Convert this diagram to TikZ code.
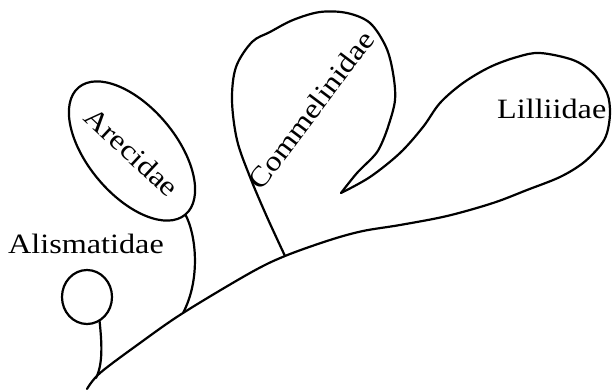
\documentclass[tikz,border=0pt]{standalone}
\usepackage{fontspec}
\setmainfont[FakeStretch=1.15]{Liberation Serif}
\usetikzlibrary{calc}
\begin{document}
\begin{tikzpicture}[x=1pt,y=1pt,
  outline/.style={line width=2.2pt, line join=round, line cap=round},
  lbl/.style={font=\fontsize{28}{34}\selectfont, inner sep=0pt}]
\useasboundingbox (0,0) rectangle (612,389);
% junction coordinates
\coordinate (root) at (87,0);
\coordinate (jA) at (96,11);
\coordinate (jR) at (183,76);
\coordinate (jC) at (285,133);
\coordinate (tip) at (341,196);
\coordinate (cA) at (87,92);
\coordinate (cR) at (132,238);
\coordinate (sA) at ($(cA)+(-60:25 and 27)$);
\coordinate (sR) at ($(cR)+(-50:83)$);
% trunk and Lilliidae
\draw[outline] plot[smooth, tension=0.55] coordinates {
  (root) (100,16) (140,46) (jR) (250,116) (jC) (330,149) (363,158) (400,164)
  (447,173) (493,186) (527,199) (560,212) (583,226) (600,243) (607,256)
  (610,276) (607,296) (593,316) (573,329) (540,336) (517,332) (490,322)
  (463,306) (440,286) (423,262) (400,236) (370,212) (tip)};
% Commelinidae
\draw[outline] plot[smooth, tension=0.55] coordinates {
  (jC) (267,172) (250,212) (237,249) (232,289) (236,322) (252,347) (270,357)
  (293,369) (320,377) (347,376) (370,366) (386,342) (393,316) (395,289)
  (388,262) (380,242) (373,232) (357,216) (tip)};
% Arecidae
\draw[outline, rotate around={-50:(cR)}] (cR) ellipse [x radius=83, y radius=44];
\draw[outline] (sR) .. controls (196,155) and (201,110) .. (jR);
% Alismatidae
\draw[outline] (cA) ellipse [x radius=25, y radius=27];
\draw[outline] (sA) .. controls (102,45) and (103,25) .. (jA);
% labels
\node[lbl, anchor=base west] (alis) at (8,136) {Alismatidae};
\node[lbl, anchor=base west] (lili) at (497,271) {Lilliidae};
\node[lbl, rotate=53] (comm) at (311,279) {Commelinidae};
\node[lbl, rotate=-43] (arec) at (132,237) {Arecidae};
\end{tikzpicture}
\end{document}
